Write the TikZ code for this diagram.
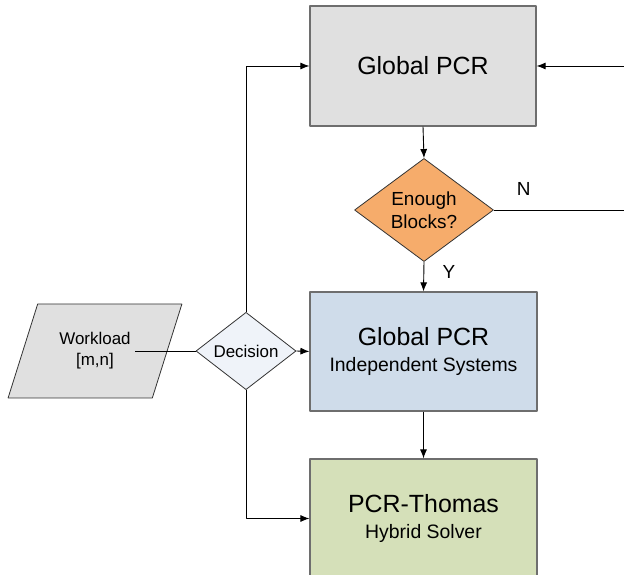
\documentclass[tikz,border=0pt]{standalone}
\usepackage{fontspec}
\setmainfont{Liberation Sans}
\usetikzlibrary{arrows.meta}
\usetikzlibrary{shapes.geometric}
\definecolor{boxgray}{RGB}{224,224,224}
\definecolor{boxline}{RGB}{110,110,110}
\definecolor{decorange}{RGB}{246,172,107}
\definecolor{boxblue}{RGB}{207,220,234}
\definecolor{boxgreen}{RGB}{213,224,185}
\definecolor{decpale}{RGB}{239,243,249}
\newcommand{\bigtxt}{\fontsize{25}{30}\selectfont}
\newcommand{\subtxt}{\fontsize{19.5}{24}\selectfont}

\begin{document}
\begin{tikzpicture}[>={Latex[length=9bp,width=7bp]},line join=bevel,
  procbox/.style={draw=boxline,line width=1.2bp,inner sep=0pt,minimum width=227bp,minimum height=119bp,align=center},
  choice/.style={diamond,draw=black!80,line width=0.8bp,inner sep=0pt,align=center},
  link/.style={black,line width=0.9bp},
]
\useasboundingbox (0bp,0bp) rectangle (624bp,575bp);
%%
\node (global) at (423bp,509bp) [procbox,fill=boxgray,minimum width=226bp,minimum height=120bp] {\bigtxt Global PCR};
  \node (enough) at (424bp,365bp) [choice,fill=decorange,minimum width=139bp,minimum height=97bp,font=\fontsize{19}{23}\selectfont] {Enough\\Blocks?};
  \node (indep) at (423.5bp,223.5bp) [procbox,fill=boxblue] {\bigtxt Global PCR\\[11bp]\subtxt Independent Systems};
  \node (thomas) at (423.5bp,56.5bp) [procbox,fill=boxgreen] {\bigtxt PCR-Thomas\\[11bp]\subtxt Hybrid Solver};
  \node (decision) at (246bp,224bp) [choice,fill=decpale,minimum width=100bp,minimum height=75bp,font=\fontsize{17}{21}\selectfont] {Decision};
  \node (workload) at (95bp,224bp) [trapezium,trapezium left angle=63.4,trapezium right angle=116.6,trapezium stretches=true,draw=black!80,line width=0.8bp,fill=boxgray,minimum width=174bp,minimum height=94bp,inner sep=0pt,align=center,font=\fontsize{17}{21}\selectfont] {Workload\\{[m,n]}};
  \coordinate (wl_out) at (135bp,224bp);
  \coordinate (loop_in) at (624bp,509bp);
  \coordinate (loop_out) at (624bp,365bp);
  \draw [link] (wl_out) -- (decision.west);
  \draw [link,->] (decision.east) -- (indep.west);
  \draw [link,->] (decision.north) |- (global.west);
  \draw [link,->] (decision.south) |- (thomas.west);
  \draw [link,->] (global.south) -- (enough.north);
  \draw [link,->] (enough.south) -- node [right,pos=0.35,xshift=15bp,font=\fontsize{19}{23}\selectfont] {Y} (indep.north);
  \draw [link] (enough.east) -- node [above,pos=0.23,yshift=11bp,font=\fontsize{19}{23}\selectfont] {N} (loop_out);
  \draw [link,->] (loop_in) -- (global.east);
  \draw [link,->] (indep.south) -- (thomas.north);
%
\end{tikzpicture}
\end{document}
